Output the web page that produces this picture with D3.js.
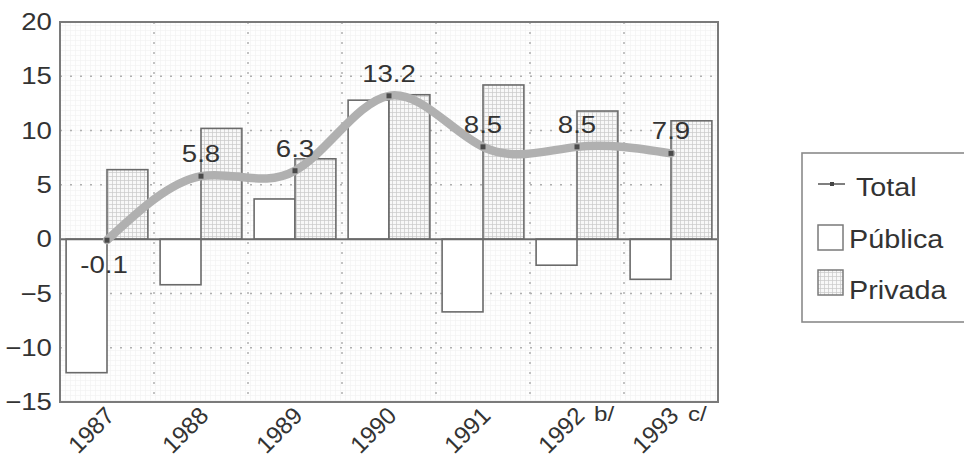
<!DOCTYPE html>
<html>
<head>
<meta charset="utf-8">
<script src="https://cdn.jsdelivr.net/npm/d3@7"></script>
<style>
  html, body { margin: 0; padding: 0; background: #fff; }
  svg { display: block; }
  text { font-family: "Liberation Sans", Arial, sans-serif; fill: #333; }
</style>
</head>
<body>
<svg id="chart" width="964" height="464"></svg>
<script>
// Investment growth by year: public, private and total
const years = ["1987", "1988", "1989", "1990", "1991", "1992", "1993"];
const yearNotes = ["", "", "", "", "", "b/", "c/"];
const publica = [-12.3, -4.2, 3.7, 12.8, -6.7, -2.4, -3.7];
const privada = [6.4, 10.2, 7.4, 13.3, 14.2, 11.8, 10.9];
const total = [-0.1, 5.8, 6.3, 13.2, 8.5, 8.5, 7.9];
const yTicks = [-15, -10, -5, 0, 5, 10, 15, 20];
const gridValues = [-10, -5, 5, 10, 15];
const legendLabels = ["Total", "Pública", "Privada"];

const svg = d3.select("#chart");
const plot = { left: 60, right: 718, top: 22, bottom: 402 };
const stretch = "scale(1.15,1)";

const x = d3.scaleBand().domain(years).range([plot.left, plot.right]).padding(0);
const y = d3.scaleLinear().domain([-15, 20]).range([plot.bottom, plot.top]);
const barW = x.bandwidth() * 0.435;
const cx = d => x(d) + x.bandwidth() / 2;

// fill patterns: faint background mesh and the finer grid used for private bars
const defs = svg.append("defs");
const bgPat = defs.append("pattern").attr("id", "bgmesh")
  .attr("patternUnits", "userSpaceOnUse").attr("width", 5).attr("height", 5);
bgPat.append("rect").attr("width", 5).attr("height", 5).attr("fill", "#fefefe");
bgPat.append("path").attr("d", "M0,0.5H5M0.5,0V5").attr("stroke", "#f2f2f2").attr("stroke-width", 0.7);

const privPat = defs.append("pattern").attr("id", "privmesh")
  .attr("patternUnits", "userSpaceOnUse").attr("width", 4).attr("height", 4);
privPat.append("rect").attr("width", 4).attr("height", 4).attr("fill", "#f8f8f8");
privPat.append("path").attr("d", "M0,0.5H4M0.5,0V4").attr("stroke", "#c8c8c8").attr("stroke-width", 0.7);

// plot background
svg.append("rect")
  .attr("x", plot.left).attr("y", plot.top)
  .attr("width", plot.right - plot.left).attr("height", plot.bottom - plot.top)
  .attr("fill", "url(#bgmesh)");

// dotted grid lines
svg.append("g").selectAll("line").data(gridValues).join("line")
  .attr("x1", plot.left).attr("x2", plot.right)
  .attr("y1", d => y(d)).attr("y2", d => y(d))
  .attr("stroke", "#b0b0b0").attr("stroke-width", 1.5).attr("stroke-dasharray", "2,8");

svg.append("g").selectAll("line").data(years.slice(1)).join("line")
  .attr("x1", d => x(d)).attr("x2", d => x(d))
  .attr("y1", plot.top).attr("y2", plot.bottom)
  .attr("stroke", "#b0b0b0").attr("stroke-width", 1.5).attr("stroke-dasharray", "2,8");

// bars
const bars = svg.append("g");
bars.selectAll("rect.pub").data(years).join("rect").attr("class", "pub")
  .attr("x", d => cx(d) - barW)
  .attr("y", (d, i) => y(Math.max(0, publica[i])))
  .attr("width", barW)
  .attr("height", (d, i) => Math.abs(y(publica[i]) - y(0)))
  .attr("fill", "#fff").attr("stroke", "#6a6a6a").attr("stroke-width", 1.6);

bars.selectAll("rect.priv").data(years).join("rect").attr("class", "priv")
  .attr("x", d => cx(d))
  .attr("y", (d, i) => y(Math.max(0, privada[i])))
  .attr("width", barW)
  .attr("height", (d, i) => Math.abs(y(privada[i]) - y(0)))
  .attr("fill", "url(#privmesh)").attr("stroke", "#6a6a6a").attr("stroke-width", 1.6);

// zero line
svg.append("line")
  .attr("x1", plot.left).attr("x2", plot.right)
  .attr("y1", y(0)).attr("y2", y(0))
  .attr("stroke", "#6a6a6a").attr("stroke-width", 2);

// total: thick smoothed line with point markers
const line = d3.line()
  .x((d, i) => cx(years[i]))
  .y(d => y(d))
  .curve(d3.curveNatural);

svg.append("path").datum(total)
  .attr("d", line)
  .attr("fill", "none").attr("stroke", "#b0b0b0")
  .attr("stroke-width", 8.5).attr("stroke-linecap", "round");

svg.append("g").selectAll("rect").data(total).join("rect")
  .attr("x", (d, i) => cx(years[i]) - 2.5)
  .attr("y", d => y(d) - 2.5)
  .attr("width", 5).attr("height", 5)
  .attr("fill", "#4a4a4a");

// value labels
svg.append("g").selectAll("text").data(total).join("text")
  .attr("transform", (d, i) => `translate(${cx(years[i]) + (d < 0 ? -3 : 0)},${d < 0 ? y(d) + 33 : y(d) - 14}) ${stretch}`)
  .attr("text-anchor", "middle")
  .attr("font-size", 24)
  .text(d => d.toFixed(1));

// frame
svg.append("rect")
  .attr("x", plot.left).attr("y", plot.top)
  .attr("width", plot.right - plot.left).attr("height", plot.bottom - plot.top)
  .attr("fill", "none").attr("stroke", "#7a7a7a").attr("stroke-width", 2);

// y axis
const yAxis = svg.append("g")
  .attr("transform", `translate(${plot.left},0)`)
  .call(d3.axisLeft(y).tickValues(yTicks).tickSize(0).tickPadding(7).tickFormat(d3.format("d")));
yAxis.select(".domain").remove();
yAxis.selectAll("text")
  .attr("font-size", 24).attr("font-family", "Liberation Sans, Arial, sans-serif")
  .attr("fill", "#333").attr("transform", stretch);

// x axis labels, rotated
const xLab = svg.append("g");
xLab.selectAll("text.year").data(years).join("text").attr("class", "year")
  .attr("transform", d => `translate(${cx(d) + 9},${417}) rotate(-45)`)
  .attr("text-anchor", "end")
  .attr("font-size", 24)
  .text(d => d);

xLab.selectAll("text.note").data(years).join("text").attr("class", "note")
  .attr("transform", d => `translate(${cx(d) + 17},${421}) ${stretch}`)
  .attr("font-size", 21)
  .text((d, i) => yearNotes[i]);

// legend
const lg = svg.append("g");
lg.append("rect")
  .attr("x", 802).attr("y", 153).attr("width", 200).attr("height", 169)
  .attr("fill", "#fff").attr("stroke", "#8a8a8a").attr("stroke-width", 1.6);

const rowY = [196, 248, 299];
lg.append("line").attr("x1", 818).attr("x2", 845).attr("y1", rowY[0] - 12).attr("y2", rowY[0] - 12)
  .attr("stroke", "#555").attr("stroke-width", 1.5);
lg.append("rect").attr("x", 830).attr("y", rowY[0] - 14).attr("width", 4).attr("height", 4).attr("fill", "#444");
lg.append("rect").attr("x", 818).attr("y", rowY[1] - 23).attr("width", 25).attr("height", 25)
  .attr("fill", "#fff").attr("stroke", "#7a7a7a").attr("stroke-width", 1.5);
lg.append("rect").attr("x", 818).attr("y", rowY[2] - 29).attr("width", 25).attr("height", 25)
  .attr("fill", "url(#privmesh)").attr("stroke", "#7a7a7a").attr("stroke-width", 1.5);

lg.selectAll("text").data(legendLabels).join("text")
  .attr("transform", (d, i) => `translate(${i === 0 ? 856 : 849},${rowY[i]}) ${stretch}`)
  .attr("font-size", 25)
  .text(d => d);
</script>
</body>
</html>
